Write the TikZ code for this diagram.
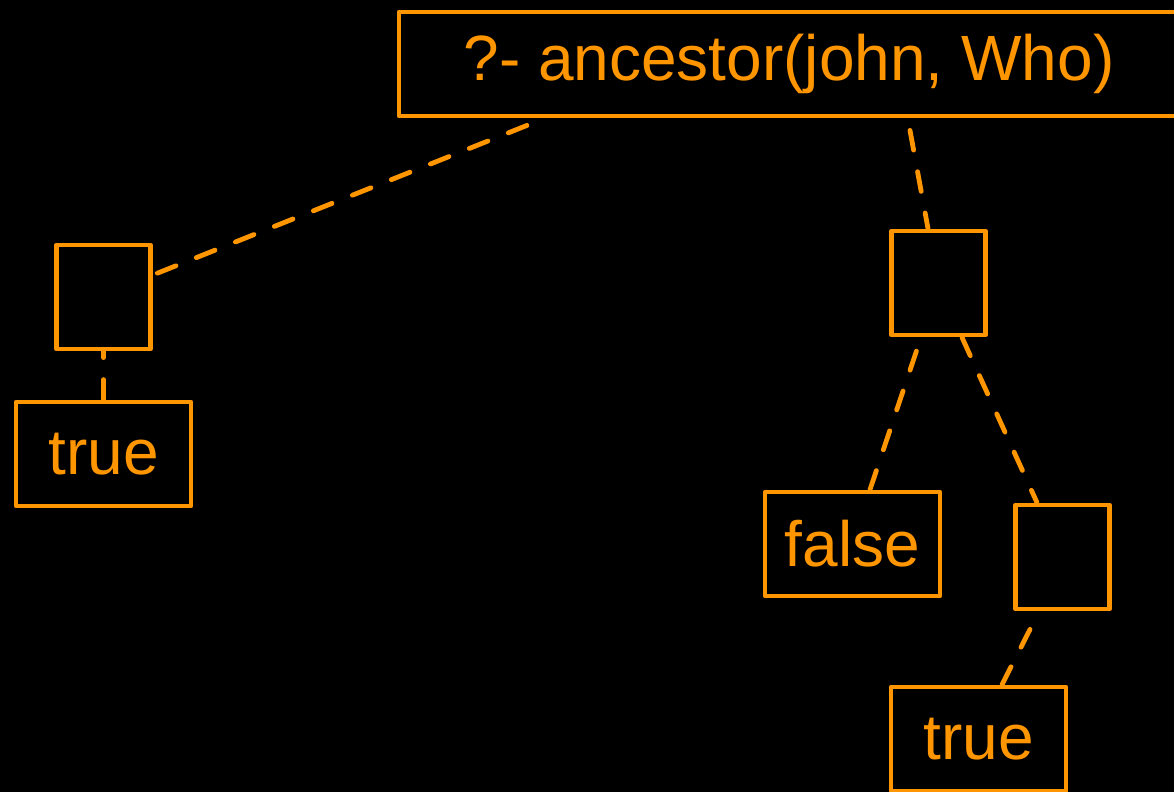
\documentclass[tikz,border=0pt]{standalone}
\usepackage{fontspec}
\setmainfont{Liberation Sans}
\usetikzlibrary{positioning,calc}
\definecolor{goalorange}{RGB}{255,150,0}
\tikzset{goal/.style={draw=goalorange, text=goalorange, line width=2.4pt, line join=round,
				inner sep=0pt, minimum height=52pt, font=\fontsize{32}{38}\selectfont},
			emptygoal/.style={goal, minimum width=47pt},
			leafgoal/.style={goal, minimum width=87.5pt},
			branch/.style={draw=goalorange, line width=2.4pt, line cap=round, dash pattern=on 10pt off 11pt}}

\begin{document}
\begin{tikzpicture}[x=0.5pt, y=-0.5pt]

					\useasboundingbox (0,0) rectangle (1174,792);
					\fill[black] (0,0) rectangle (1174,792);

					\node[goal, minimum width=390pt] (query) at (789,64) {?- ancestor(john, Who)};

					\node[emptygoal] (left) at (103.5,297) {};
					\node[leafgoal] (lefttrue) at (103.5,454) {true};

					\node[emptygoal] (right) at (938.5,283) {};
					\node[leafgoal] (rightfalse) at (852.5,544) {false};
					\node[emptygoal] (rightright) at (1062.5,557) {};
					\node[leafgoal] (righttrue) at (978.5,739) {true};

					\coordinate (qleft) at ($(query.south)+(-262,7)$);
					\coordinate (qright) at ($(query.south)+(121,12)$);

					\draw[branch] (qleft) -- ($(left.east)+(0,-22)$);
					\draw[branch] (qright) -- ($(right.north)+(-10.5,0)$);
					\draw[branch] (lefttrue.north) -- (left.south);
					\draw[branch] ($(rightfalse.north)+(17.5,0)$) -- ($(right.south)+(-21.5,12)$);
					\draw[branch] ($(right.south)+(23.5,0)$) -- ($(rightright.north)+(-25.5,0)$);
					\draw[branch] ($(righttrue.north)+(23.5,0)$) -- ($(rightright.south)+(-32.5,18)$);

				\end{tikzpicture}
\end{document}
